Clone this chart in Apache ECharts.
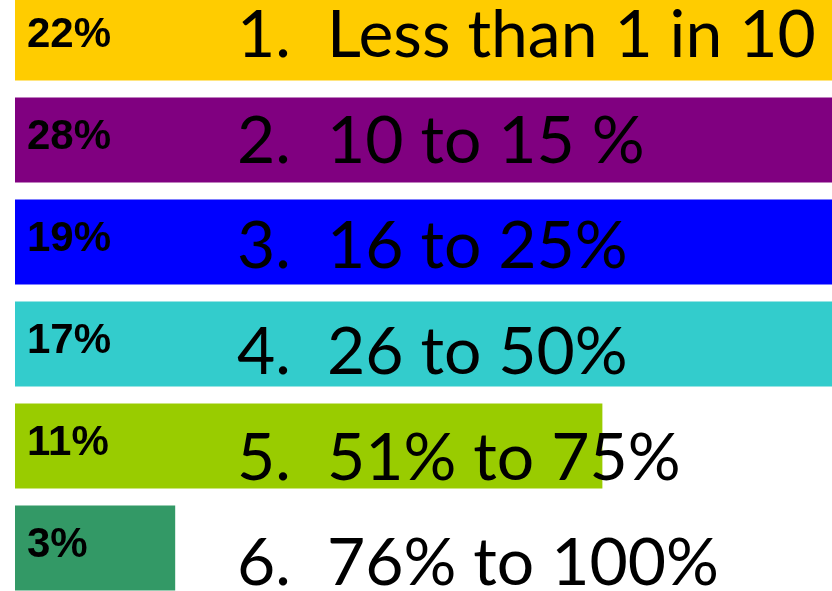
<!DOCTYPE html>
<html>
<head>
<meta charset="utf-8">
<script src="https://cdn.jsdelivr.net/npm/echarts@6/dist/echarts.min.js"></script>
<style>
  html, body { margin: 0; padding: 0; background: #ffffff; }
  #chart { width: 832px; height: 591px; }
</style>
</head>
<body>
<div id="chart"></div>
<script>
// Answer options, shares of responses and bar colours
const optionNumbers = ['1.', '2.', '3.', '4.', '5.', '6.'];
const optionTexts = ['Less than 1 in 10', '10 to 15 %', '16 to 25%', '26 to 50%', '51% to 75%', '76% to 100%'];
const shares = [22, 28, 19, 17, 11, 3];
const barColors = ['#FFCC00', '#800080', '#0000FF', '#33CCCC', '#99CC00', '#339966'];

const categories = optionNumbers.map((n, i) => n + ' ' + optionTexts[i]);

const chart = echarts.init(document.getElementById('chart'), null, { renderer: 'canvas' });

chart.setOption({
  animation: false,
  backgroundColor: '#ffffff',
  grid: [
    // bars (the band runs a little past the top and bottom edges)
    { left: 15, right: 0, top: -13, height: 612, containLabel: false, outerBoundsMode: 'none' },
    // option captions
    { left: 237, right: 0, top: -17, height: 634, containLabel: false, outerBoundsMode: 'none' }
  ],
  xAxis: [
    { gridIndex: 0, type: 'value', min: 0, max: 15.3, show: false },
    { gridIndex: 1, type: 'value', min: 0, max: 1, show: false }
  ],
  yAxis: [
    {
      gridIndex: 0, type: 'category', data: categories, inverse: true,
      axisLine: { show: false }, axisTick: { show: false }, axisLabel: { show: false },
      splitLine: { show: false }
    },
    {
      gridIndex: 1, type: 'category', data: categories, inverse: true, z: 10,
      axisLine: { show: false }, axisTick: { show: false }, splitLine: { show: false },
      axisLabel: {
        inside: true,
        margin: 0,
        formatter: (value, idx) => '{n|' + optionNumbers[idx] + '}{t|' + optionTexts[idx] + '}',
        rich: {
          n: { width: 90, fontSize: 66, fontFamily: 'Lato', color: '#000000' },
          t: { fontSize: 66, fontFamily: 'Lato', color: '#000000' }
        }
      }
    }
  ],
  series: [
    {
      type: 'bar',
      xAxisIndex: 0,
      yAxisIndex: 0,
      barWidth: 85,
      clip: true,
      data: shares.map((v, i) => ({ value: v, itemStyle: { color: barColors[i] } })),
      label: {
        show: true,
        position: 'insideLeft',
        distance: 12,
        offset: [0, -3],
        formatter: '{c}%',
        fontFamily: '"Liberation Sans", Arial, sans-serif',
        fontWeight: 'bold',
        fontSize: 42,
        color: '#000000'
      }
    }
  ]
});
</script>
</body>
</html>
